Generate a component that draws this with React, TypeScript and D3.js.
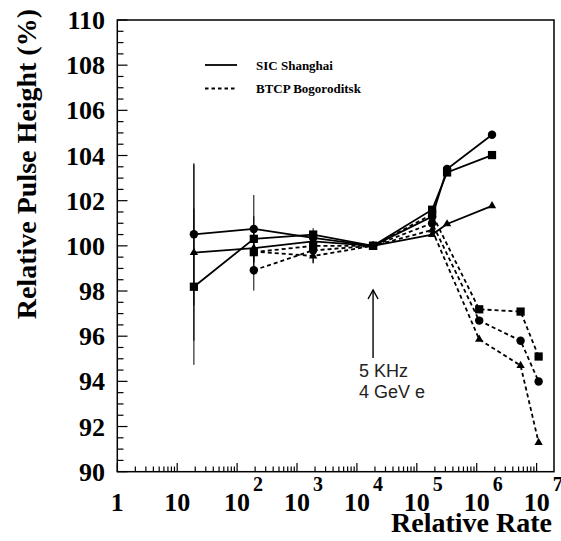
import React from 'react';
import * as d3 from 'd3';

// rates (Hz) and relative pulse heights (%)
const xSIC = [19, 190, 1860, 18600, 1.8e5, 3.2e5, 1.8e6];
const sicCircle = [100.51, 100.75, 100.35, 100, 101.3, 103.4, 104.92];
const sicSquare = [98.19, 100.31, 100.5, 100, 101.6, 103.25, 104.02];
const sicTriangle = [99.7, 99.9, 100.2, 100, 100.5, 100.97, 101.77];
const sicCircleErr = [3.15, 1.5, 0.3, 0, 0, 0, 0];
const sicSquareErr = [3.46, 1.0, 0.28, 0, 0, 0, 0];
const sicTriangleErr = [3.9, 0, 0.3, 0, 0, 0, 0];

const xBTCP = [190, 1860, 18600, 1.8e5, 1.1e6, 5.4e6, 1.08e7];
const btcpSquare = [99.72, 100.0, 100, 101.4, 97.19, 97.09, 95.1];
const btcpCircle = [98.92, 99.8, 100, 101.0, 96.69, 95.8, 93.99];
const btcpTriangle = [99.75, 99.55, 100, 100.7, 95.86, 94.7, 91.29];
const btcpCircleErr = [0.9, 0.58, 0, 0, 0, 0, 0];
const btcpSquareErr = [1.0, 0.3, 0, 0, 0, 0, 0];
const btcpTriangleErr = [0, 0.3, 0, 0, 0, 0, 0];

const yTicks = [90, 92, 94, 96, 98, 100, 102, 104, 106, 108, 110];
const xExponents = [0, 1, 2, 3, 4, 5, 6, 7];

const serif = '"Liberation Serif", "Times New Roman", serif';
const sans = '"Liberation Sans", Arial, sans-serif';

export default function App() {
  const width = 561, height = 541;
  const x = d3.scaleLog().domain([1, 1.95e7]).range([117.3, 554]);
  const y = d3.scaleLinear().domain([90, 110]).range([471.7, 20]);

  const minorX: number[] = [];
  xExponents.forEach(e => {
    for (let k = 2; k <= 9; k++) {
      const v = k * Math.pow(10, e);
      if (v <= 1.95e7) minorX.push(v);
    }
  });
  const minorY = d3.range(90, 110.01, 0.5).filter(v => Math.abs(v % 2) > 0.01);

  const line = d3.line<[number, number]>().x(d => x(d[0])).y(d => y(d[1]));

  const series = [
    { xs: xSIC, ys: sicCircle, err: sicCircleErr, shape: d3.symbolCircle, size: 56, dash: null },
    { xs: xSIC, ys: sicSquare, err: sicSquareErr, shape: d3.symbolSquare, size: 68, dash: null },
    { xs: xSIC, ys: sicTriangle, err: sicTriangleErr, shape: d3.symbolTriangle, size: 30, dash: null },
    { xs: xBTCP, ys: btcpSquare, err: btcpSquareErr, shape: d3.symbolSquare, size: 68, dash: '4,3' },
    { xs: xBTCP, ys: btcpCircle, err: btcpCircleErr, shape: d3.symbolCircle, size: 56, dash: '4,3' },
    { xs: xBTCP, ys: btcpTriangle, err: btcpTriangleErr, shape: d3.symbolTriangle, size: 30, dash: '4,3' },
  ];

  const arrowX = x(18600);

  return (
    <svg width={width} height={height} style={{ position: 'absolute', left: 0, top: 0, background: '#fff' }}>
      {/* frame */}
      <rect x={117.3} y={20} width={554 - 117.3} height={471.7 - 20} fill="none" stroke="#000" strokeWidth={1.5} />

      {/* y ticks */}
      {yTicks.map(v => (
        <g key={'y' + v}>
          <line x1={117.3} x2={127.5} y1={y(v)} y2={y(v)} stroke="#000" strokeWidth={1.2} />
          <text x={105} y={y(v) + 9} textAnchor="end" fontFamily={serif} fontWeight="bold" fontSize={26}>{v}</text>
        </g>
      ))}
      {minorY.map(v => (
        <line key={'my' + v} x1={117.3} x2={123.5} y1={y(v)} y2={y(v)} stroke="#000" strokeWidth={1.2} />
      ))}

      {/* x ticks */}
      {xExponents.map(e => {
        const px = x(Math.pow(10, e));
        return (
          <g key={'x' + e}>
            <line x1={px} x2={px} y1={471.7} y2={463} stroke="#000" strokeWidth={1.2} />
            <text x={px} y={511} textAnchor="middle" fontFamily={serif} fontWeight="bold" fontSize={26}>
              {e === 0 ? '1' : '10'}
            </text>
            {e >= 2 && (
              <text x={px + 16} y={491} fontFamily={serif} fontWeight="bold" fontSize={20}>{e}</text>
            )}
          </g>
        );
      })}
      {minorX.map(v => (
        <line key={'mx' + v} x1={x(v)} x2={x(v)} y1={471.7} y2={466.5} stroke="#000" strokeWidth={1.2} />
      ))}

      {/* axis titles */}
      <text transform="translate(36,9) rotate(-90)" textAnchor="end" fontFamily={serif} fontWeight="bold" fontSize={28}>
        Relative Pulse Height (%)
      </text>
      <text x={552} y={532} textAnchor="end" fontFamily={serif} fontWeight="bold" fontSize={28}>Relative Rate</text>

      {/* error bars */}
      {series.map((s, i) => s.xs.map((xv, j) => s.err[j] > 0 && (
        <line key={`e${i}-${j}`} x1={x(xv)} x2={x(xv)} y1={y(s.ys[j] - s.err[j])} y2={y(s.ys[j] + s.err[j])}
          stroke="#000" strokeWidth={1} />
      )))}

      {/* lines */}
      {series.map((s, i) => (
        <path key={'l' + i} d={line(s.xs.map((xv, j) => [xv, s.ys[j]] as [number, number])) || ''}
          fill="none" stroke="#000" strokeWidth={1.8} strokeDasharray={s.dash || undefined} />
      ))}

      {/* markers */}
      {series.map((s, i) => s.xs.map((xv, j) => (
        <path key={`m${i}-${j}`} d={d3.symbol().type(s.shape).size(s.size)() || ''}
          transform={`translate(${x(xv)},${y(s.ys[j])})`} fill="#000" />
      )))}

      {/* legend */}
      <line x1={205} x2={237} y1={65} y2={65} stroke="#000" strokeWidth={1.8} />
      <text x={256} y={69.5} fontFamily={serif} fontWeight="bold" fontSize={13}>SIC Shanghai</text>
      <line x1={205} x2={237} y1={88.5} y2={88.5} stroke="#000" strokeWidth={1.8} strokeDasharray="3.5,3" />
      <text x={256} y={93} fontFamily={serif} fontWeight="bold" fontSize={13}>BTCP Bogoroditsk</text>

      {/* annotation */}
      <line x1={arrowX} x2={arrowX} y1={358} y2={290} stroke="#000" strokeWidth={1.4} />
      <path d={`M${arrowX - 5},${299} L${arrowX},${290} L${arrowX + 5},${299}`} fill="none" stroke="#000" strokeWidth={1.4} />
      <text x={359} y={377} fontFamily={sans} fontSize={18} fill="#222">5 KHz</text>
      <text x={359} y={398} fontFamily={sans} fontSize={18} fill="#222">4 GeV e</text>
    </svg>
  );
}
